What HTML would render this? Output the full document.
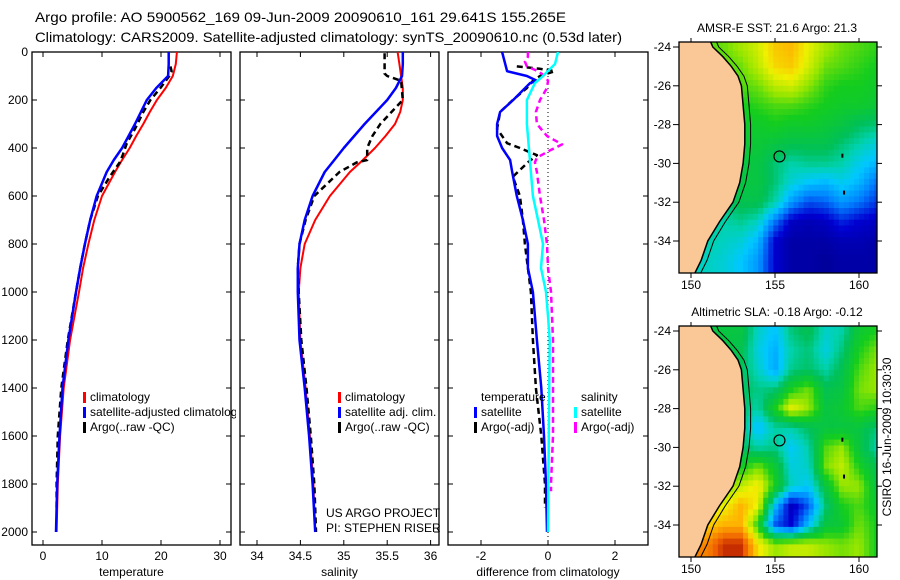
<!DOCTYPE html>
<html><head><meta charset="utf-8"><style>
html,body{margin:0;padding:0;background:#fff;}
svg{display:block;font-family:"Liberation Sans",sans-serif;}
</style></head><body>
<svg id="fig" width="900" height="580" viewBox="0 0 900 580" xmlns="http://www.w3.org/2000/svg">
<text x="35" y="22" font-size="14" textLength="531" lengthAdjust="spacingAndGlyphs">Argo profile: AO 5900562_169 09-Jun-2009 20090610_161 29.641S 155.265E</text>
<text x="35" y="42" font-size="14" textLength="587" lengthAdjust="spacingAndGlyphs">Climatology: CARS2009. Satellite-adjusted climatology: synTS_20090610.nc (0.53d later)</text>
<defs>
<clipPath id="c1"><rect x="32" y="52" width="204" height="493"/></clipPath>
<clipPath id="c2"><rect x="240" y="52" width="199" height="493"/></clipPath>
<clipPath id="c3"><rect x="448" y="52" width="200" height="493"/></clipPath>
<clipPath id="m1"><rect x="679" y="42" width="198" height="231"/></clipPath>
<clipPath id="m2"><rect x="679" y="326" width="198" height="231"/></clipPath>
</defs>
<g id="plots"></g>
<text x="891" y="437" font-size="12" text-anchor="middle" transform="rotate(-90 891 437)">CSIRO 16-Jun-2009 10:30:30</text>
</svg>
<script>
// ---- profile data ----
const depths=[0,50,100,150,200,250,300,350,400,450,500,600,700,800,900,1000,1200,1400,1600,1800,2000];
const tempClim=[22.7,22.5,22.0,20.8,19.3,18.1,17.0,15.8,14.7,13.4,12.2,10.0,8.7,7.7,6.8,6.1,4.6,3.5,2.9,2.5,2.3];
const tempSat=[21.3,21.3,21.2,19.2,17.6,16.6,15.6,14.5,13.4,12.0,10.8,9.1,8.0,7.1,6.3,5.6,4.3,3.3,2.8,2.4,2.2];
const salClim=[35.62,35.64,35.66,35.68,35.68,35.65,35.59,35.48,35.36,35.22,35.07,34.84,34.67,34.55,34.50,34.48,34.50,34.56,34.61,34.65,34.67];
const salSat=[35.68,35.68,35.67,35.6,35.50,35.37,35.24,35.12,35.00,34.89,34.78,34.64,34.55,34.49,34.47,34.47,34.49,34.55,34.60,34.64,34.67];
const tempArgoDepth=[60,80,100,150,200,250,320,380,430,460,520,600,700,800,900,1000,1200,1400,1600,1800,1900];
const tempArgo=[21.6,21.8,21.4,19.9,18.2,17.0,15.6,14.2,13.5,13.0,11.3,9.3,8.0,7.1,6.3,5.6,4.2,3.1,2.5,2.3,2.3];
const salArgoDepth=[5,90,100,120,200,250,300,350,400,450,460,500,600,700,800,900,1000,1200,1400,1600,1800,1900,2000];
const salArgo=[35.47,35.47,35.50,35.66,35.68,35.55,35.42,35.33,35.27,35.27,35.15,34.95,34.66,34.56,34.49,34.47,34.48,34.51,34.57,34.62,34.66,34.67,34.68];
const diffDepth=[0,80,100,120,130,200,250,300,350,400,450,500,600,700,800,900,1000,1200,1400,1600,1800,2000];
const tempSatDiff=[-1.37,-1.22,-0.63,-0.33,-0.54,-1.04,-1.43,-1.52,-1.52,-1.37,-1.13,-1.07,-0.93,-0.75,-0.6,-0.6,-0.45,-0.33,-0.2,-0.12,-0.06,-0.03];
const salSatDiffDepth=[0,50,100,130,200,300,400,500,600,700,800,900,1000,1100,1200,1500,2000];
const salSatDiff=[0.3,0.21,-0.15,-0.39,-0.63,-0.63,-0.57,-0.51,-0.45,-0.3,-0.15,-0.21,-0.06,0.0,0.05,0.03,0.0];
const tempArgoDiffDepth=[60,70,80,100,120,150,200,250,320,380,400,430,460,520,600,700,800,900,1000,1200,1400,1600,1800,1900];
const tempArgoDiff=[-0.93,-0.24,0.2,-0.24,-0.45,-0.63,-1.05,-1.43,-1.52,-1.22,-0.84,-0.33,-0.6,-1.05,-0.84,-0.75,-0.69,-0.6,-0.51,-0.45,-0.36,-0.2,-0.09,-0.09];
const salArgoDiffDepth=[0,20,40,60,80,100,120,150,200,250,300,350,385,410,440,460,500,600,700,800,900,1000,1200,1400,1600,1800,1830];
const salArgoDiff=[-0.6,-0.6,-0.69,-0.63,-0.3,-0.09,0.0,-0.03,-0.24,-0.36,-0.33,-0.03,0.42,0.06,-0.33,-0.39,-0.33,-0.24,-0.12,-0.03,0.0,0.09,0.15,0.15,0.15,0.09,0.09];
const depthTicks=[0,200,400,600,800,1000,1200,1400,1600,1800,2000];
const tempTicks=[0,10,20,30];
const salTicks=[34,34.5,35,35.5,36];
const diffTickVals=[-2,0,2];
// ---- map data (coarse grids; lon 150..161, lat -24..-35) ----
const mapLons=[150,151,152,153,154,155,156,157,158,159,160,161];
const mapLats=[-24,-25,-26,-27,-28,-29,-30,-31,-32,-33,-34,-35];
const sst=[
[21.5,21.5,21.6,21.8,22.0,22.4,22.5,22.1,21.8,21.6,21.5,21.4],
[21.4,21.4,21.5,21.6,21.9,22.3,22.4,22.0,21.6,21.5,21.4,21.3],
[21.3,21.3,21.4,21.5,21.6,21.9,22.0,21.7,21.4,21.3,21.3,21.2],
[21.2,21.2,21.3,21.3,21.4,21.5,21.5,21.4,21.3,21.2,21.2,21.1],
[21.1,21.1,21.2,21.2,21.2,21.3,21.2,21.2,21.1,21.0,20.8,20.7],
[21.0,21.0,21.1,21.1,21.1,21.0,20.9,20.9,20.9,20.7,20.5,20.3],
[21.0,21.0,21.0,21.0,21.0,20.7,20.5,20.6,20.6,20.5,20.2,20.0],
[20.9,20.9,20.9,21.0,21.0,20.7,20.3,20.1,20.0,20.2,20.0,19.6],
[20.8,20.8,20.7,20.9,20.9,20.5,19.8,19.4,19.5,19.8,19.6,19.3],
[20.6,20.6,20.5,20.6,20.4,19.6,18.9,18.8,18.9,19.2,19.0,18.9],
[20.5,20.5,20.4,20.3,20.0,19.0,18.7,18.7,18.7,18.8,18.8,18.7],
[20.4,20.4,20.3,20.1,19.8,19.0,18.7,18.7,18.6,18.7,18.7,18.7]];
const sla=[
[0.0,0.0,0.0,0.0,-0.1,-0.15,-0.05,-0.02,-0.1,-0.08,0.02,0.05],
[0.0,0.0,0.0,-0.02,-0.12,-0.17,-0.08,-0.05,-0.12,-0.05,0.05,0.1],
[0.0,0.0,0.0,-0.03,-0.1,-0.18,-0.06,-0.04,-0.08,-0.02,0.08,0.12],
[0.0,0.0,0.0,-0.03,-0.06,-0.05,0.05,0.1,-0.02,0.0,0.1,0.12],
[0.0,0.0,0.0,-0.04,-0.08,0.05,0.18,0.12,0.0,0.02,0.08,0.06],
[0.0,0.0,0.0,-0.05,-0.16,-0.08,-0.08,-0.03,0.0,0.0,0.0,-0.05],
[0.0,0.0,0.0,-0.03,-0.08,-0.06,-0.14,-0.08,0.08,0.12,0.0,-0.08],
[0.05,0.05,0.05,0.04,0.1,0.02,-0.12,-0.1,0.1,0.15,0.05,-0.02],
[0.1,0.1,0.1,0.15,0.2,0.05,-0.1,-0.14,0.0,0.12,0.12,0.0],
[0.15,0.15,0.18,0.25,0.18,-0.15,-0.35,-0.25,-0.05,0.05,0.08,0.03],
[0.22,0.22,0.25,0.25,0.05,-0.25,-0.32,-0.15,0.0,0.02,0.1,0.05],
[0.3,0.3,0.38,0.38,0.2,0.12,0.15,0.15,0.12,0.1,0.12,0.05]];
const coastLat=[-23.6,-24,-24.5,-25,-25.5,-26,-27,-28,-29,-30,-31,-32,-33,-34,-35,-35.7];
const coastLon=[151.1,151.3,151.9,152.4,152.8,153.0,153.1,153.2,153.2,153.1,152.9,152.5,151.7,151.0,150.6,150.2];
const argoLat=-29.641, argoLon=155.265;
const latTicks=[-24,-26,-28,-30,-32,-34];
const lonTicks=[150,155,160];

const NS="http://www.w3.org/2000/svg";
const root=document.getElementById('plots');
function el(tag,attrs,parent){const e=document.createElementNS(NS,tag);for(const k in attrs)e.setAttribute(k,attrs[k]);(parent||root).appendChild(e);return e;}
function txt(x,y,s,size,anchor,parent){const t=el('text',{x:x,y:y,'font-size':size,'text-anchor':anchor||'start'},parent);t.textContent=s;return t;}

const yD=d=>52+0.24*d;
const xT=v=>43+5.9*v;
const xS=v=>257+86.8*(v-34);
const xDf=v=>548+33.5*v;

function panel(x0,x1,xf,ticks,labels,title,name,clip){
  const g=el('g',{});
  
  
  const fr=el('rect',{x:x0,y:52,width:x1-x0,height:493,fill:'none',stroke:'#000','stroke-width':1.3},g);
  
  
  ticks.forEach((v,i)=>{const x=xf(v);
    el('line',{x1:x,x2:x,y1:545,y2:540,stroke:'#000'},g);
    el('line',{x1:x,x2:x,y1:52,y2:57,stroke:'#000'},g);
    const t=txt(x,560,labels[i],12,'middle',g);
    
    });
  depthTicks.forEach(d=>{const y=yD(d);
    el('line',{x1:x0,x2:x0+5,y1:y,y2:y,stroke:'#000'},g);
    el('line',{x1:x1,x2:x1-5,y1:y,y2:y,stroke:'#000'},g);});
  const at=txt((x0+x1)/2,576,title,12,'middle',g);
  
  
  const pg=el('g',{'clip-path':'url(#'+clip+')'},g);
  return pg;
}
function line(g,xs,ds,xf,color,dash,name,w){
  const p=xs.map((v,i)=>xf(v).toFixed(1)+','+yD(ds[i]).toFixed(1)).join(' ');
  const l=el('polyline',{points:p,fill:'none',stroke:color,'stroke-width':w||2.5,'stroke-dasharray':dash||'none','stroke-linejoin':'round'},g);
  
  
}
depthTicks.forEach(d=>{const t=txt(28,yD(d)+4,String(d),12,'end');
  
  });

const p1=panel(32,231,xT,tempTicks,tempTicks.map(String),'temperature','temperature-panel','c1');
line(p1,tempClim,depths,xT,'#f00',null,'temp-climatology-line',2);
line(p1,tempArgo,tempArgoDepth,xT,'#000','6,4','temp-argo-line',2.5);
line(p1,tempSat,depths,xT,'#00f',null,'temp-satellite-line',2.5);

const p2=panel(240,439,xS,salTicks,['34','34.5','35','35.5','36'],'salinity','salinity-panel','c2');
line(p2,salClim,depths,xS,'#f00',null,'sal-climatology-line',2);
line(p2,salArgo,salArgoDepth,xS,'#000','6,4','sal-argo-line',2.5);
line(p2,salSat,depths,xS,'#00f',null,'sal-satellite-line',2.5);

const p3=panel(448,648,xDf,diffTickVals,['-2','0','2'],'difference from climatology','difference-panel','c3');
el('line',{x1:xDf(0),x2:xDf(0),y1:52,y2:545,stroke:'#000','stroke-dasharray':'1,3'},p3);
line(p3,tempArgoDiff,tempArgoDiffDepth,xDf,'#000','6,4','temp-argo-diff-line',2.5);
line(p3,salArgoDiff,salArgoDiffDepth,xDf,'#f0f','6,4','sal-argo-diff-line',2.5);
line(p3,tempSatDiff,diffDepth,xDf,'#00f',null,'temp-satellite-diff-line',2.5);
line(p3,salSatDiff,salSatDiffDepth,xDf,'#0ff',null,'sal-satellite-diff-line',2.5);

function legend(x,rows,clipId){
  const g=el('g',clipId?{'clip-path':'url(#'+clipId+')'}:{});
  
  
  rows.forEach(([c,s],i)=>{const y=397+15*i;
    if(c){el('rect',{x:x,y:y-5,width:3,height:11,fill:c},g);}
    const t=txt(x+(c?7:0),y+4,s,12,'start',g);
    
    });
}
el('clipPath',{id:'lc1'},document.querySelector('defs'));
el('rect',{x:0,y:0,width:236,height:580},document.getElementById('lc1'));
legend(83,[['#f00','climatology'],['#00f','satellite-adjusted climatology'],['#000','Argo(..raw -QC)']],'lc1');
legend(338,[['#f00','climatology'],['#00f','satellite adj. clim.'],['#000','Argo(..raw -QC)']]);
legend(481,[[null,'temperature']]);
legend(474,[[null,''],['#00f','satellite'],['#000','Argo(-adj)']]);
legend(581,[[null,'salinity']]);
legend(574,[[null,''],['#0ff','satellite'],['#f0f','Argo(-adj)']]);
let t=txt(326,517,'US ARGO PROJECT',12,'start');
t=txt(326,532,'PI: STEPHEN RISER',12,'start');

const stops=[[0,[0,0,128]],[0.12,[0,0,210]],[0.24,[0,128,255]],[0.33,[0,200,255]],[0.40,[0,210,176]],[0.46,[0,192,90]],[0.56,[20,205,30]],[0.64,[150,230,0]],[0.72,[240,240,0]],[0.8,[255,176,0]],[0.9,[240,96,0]],[1,[160,0,0]]];
function cmap(t){t=Math.max(0,Math.min(1,t));for(let i=1;i<stops.length;i++){if(t<=stops[i][0]){const a=stops[i-1],b=stops[i],f=(t-a[0])/(b[0]-a[0]);return 'rgb('+a[1].map((c,k)=>Math.round(c+(b[1][k]-c)*f)).join(',')+')';}}return 'rgb(160,0,0)';}
function sample(grid,lon,lat){
  let fx=(lon-mapLons[0])/(mapLons[1]-mapLons[0]), fy=(lat-mapLats[0])/(mapLats[1]-mapLats[0]);
  fx=Math.max(0,Math.min(mapLons.length-1.001,fx));fy=Math.max(0,Math.min(mapLats.length-1.001,fy));
  const i=Math.floor(fy),j=Math.floor(fx),a=fy-i,b=fx-j;
  return grid[i][j]*(1-a)*(1-b)+grid[i][j+1]*(1-a)*b+grid[i+1][j]*a*(1-b)+grid[i+1][j+1]*a*b;
}
function drawMap(y0,grid,cmin,cmax,title,name,clip){
  const xL=lon=>691+16.8*(lon-150);
  const yL=lat=>(y0+5)+19.4*(-24-lat);
  const g=el('g',{});
  
  
  const cg=el('g',{'clip-path':'url(#'+clip+')'},g);
  const step=0.3;
  for(let lat=-23.6;lat>-35.8;lat-=step){for(let lon=149.2;lon<161.2;lon+=step){
    const v=sample(grid,lon+step/2,lat-step/2);
    const r=el('rect',{x:xL(lon).toFixed(1),y:yL(lat).toFixed(1),width:(16.8*step+0.6).toFixed(1),height:(19.4*step+0.6).toFixed(1),fill:cmap((v-cmin)/(cmax-cmin))},cg);
    
    
  }}
  let pts=coastLat.map((la,i)=>xL(coastLon[i]).toFixed(1)+','+yL(la).toFixed(1));
  const land=el('polygon',{points:pts.join(' ')+' '+xL(149)+','+yL(-36)+' '+xL(149)+','+yL(-23.5),fill:'#f9c896',stroke:'#000','stroke-width':1.5},cg);
  
  
  const shelf=el('polyline',{points:coastLat.map((la,i)=>xL(coastLon[i]+0.35).toFixed(1)+','+yL(la).toFixed(1)).join(' '),fill:'none',stroke:'#000','stroke-width':1},cg);
  
  
  el('rect',{x:xL(158.95),y:yL(-29.5),width:2,height:4,fill:'#000'},cg);
  el('rect',{x:xL(159.05),y:yL(-31.4),width:2,height:4,fill:'#000'},cg);
  const c=el('circle',{cx:xL(argoLon),cy:yL(argoLat),r:5.5,fill:'none',stroke:'#000','stroke-width':1.2},cg);
  
  
  el('rect',{x:679,y:y0,width:198,height:231,fill:'none',stroke:'#000','stroke-width':1.3},g);
  latTicks.forEach(la=>{const y=yL(la);el('line',{x1:673,x2:679,y1:y,y2:y,stroke:'#000'},g);el('line',{x1:877,x2:882,y1:y,y2:y,stroke:'#000'},g);
    const tt=txt(671,y+4,String(la),12,'end',g);});
  lonTicks.forEach(lo=>{const x=xL(lo);el('line',{x1:x,x2:x,y1:y0,y2:y0-4,stroke:'#000'},g);el('line',{x1:x,x2:x,y1:y0+231,y2:y0+236,stroke:'#000'},g);
    const tt=txt(x,y0+247,String(lo),12,'middle',g);});
  const ti=txt(777,y0-10,title,12,'middle',g);
  
  
}
drawMap(42,sst,18.4,23.6,'AMSR-E SST: 21.6 Argo: 21.3','sst-map','m1');
drawMap(326,sla,-0.42,0.42,'Altimetric SLA: -0.18 Argo: -0.12','sla-map','m2');
</script>
</body></html>
